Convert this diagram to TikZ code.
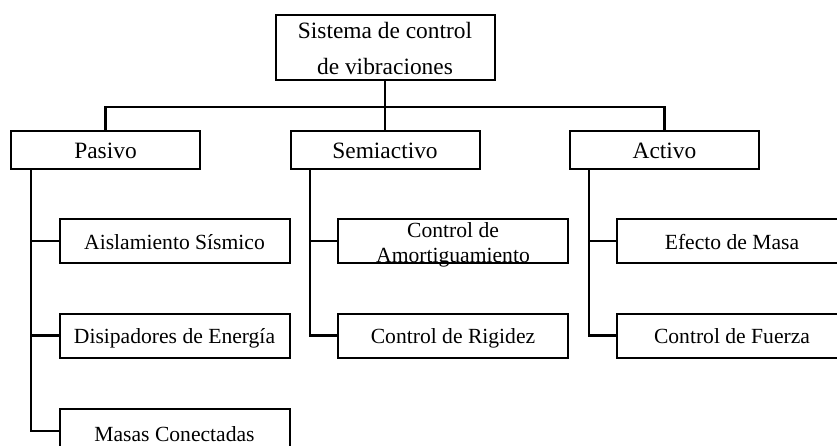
\documentclass[tikz,border=0pt]{standalone}
\usepackage{fontspec}
\setmainfont{Liberation Serif}
\begin{document}
\begin{tikzpicture}[x=1pt,y=-1pt,
  box/.style={draw=black, line width=2pt, fill=white, rectangle, inner sep=0pt},
  headbox/.style={box, minimum width=189pt, minimum height=38pt,
    font=\fontsize{23.4}{28}\selectfont, text height=18pt, text depth=0pt},
  childbox/.style={box, minimum width=230pt, minimum height=44pt,
    font=\fontsize{21.6}{25}\selectfont, text height=16pt, text depth=0pt},
  txt/.style={inner sep=0pt, align=center},
  conn/.style={draw=black, line width=2.2pt}]
\clip (0,0) rectangle (837,446);
\fill[white] (0,0) rectangle (837,446);

% top box
\node[box, minimum width=219pt, minimum height=65pt] (top) at (385,47.5) {};
\node[txt, font=\fontsize{23.4}{36}\selectfont] (toptxt) at ([yshift=-0.5pt]top.center) {Sistema de control\\de vibraciones};

% headers
\node[headbox] (pas) at (105.5,150) {Pasivo};
\node[headbox] (sem) at (385,150) {Semiactivo};
\node[headbox] (act) at (664.5,150) {Activo};

\coordinate (bar) at (0,107);
\draw[conn] (top.south) -- (top.south |- bar);
\draw[conn] (pas.north) -- (pas.north |- bar) -- (act.north |- bar) -- (act.north);
\draw[conn] (sem.north) -- (sem.north |- bar);

% Pasivo children
\node[childbox] (p1) at (174.5,241) {Aislamiento Sísmico};
\node[childbox] (p2) at (174.5,335.5) {Disipadores de Energía};
\node[box, minimum width=230pt, minimum height=44pt] (p3) at (174.5,431) {};
\node[inner sep=0pt, font=\fontsize{21.6}{25}\selectfont, text height=16pt, text depth=0pt] (p3txt) at ([yshift=-2pt]p3.center) {Masas Conectadas};
\coordinate (pl) at (31,0);
\draw[conn] (pas.south -| pl) |- (p3.west);
\draw[conn] (p1.west) -- (p1.west -| pl);
\draw[conn] (p2.west) -- (p2.west -| pl);

% Semiactivo children
\node[box, minimum width=230pt, minimum height=44pt] (s1) at (453,241) {};
\node[txt, font=\fontsize{21.6}{25}\selectfont] (s1txt) at ([yshift=-3.5pt]s1.center) {Control de\\Amortiguamiento};
\node[childbox] (s2) at (453,335.5) {Control de Rigidez};
\coordinate (sl) at (310,0);
\draw[conn] (sem.south -| sl) |- (s2.west);
\draw[conn] (s1.west) -- (s1.west -| sl);

% Activo children
\node[childbox] (a1) at (732,241) {Efecto de Masa};
\node[childbox] (a2) at (732,335.5) {Control de Fuerza};
\coordinate (al) at (589,0);
\draw[conn] (act.south -| al) |- (a2.west);
\draw[conn] (a1.west) -- (a1.west -| al);
\end{tikzpicture}
\end{document}
